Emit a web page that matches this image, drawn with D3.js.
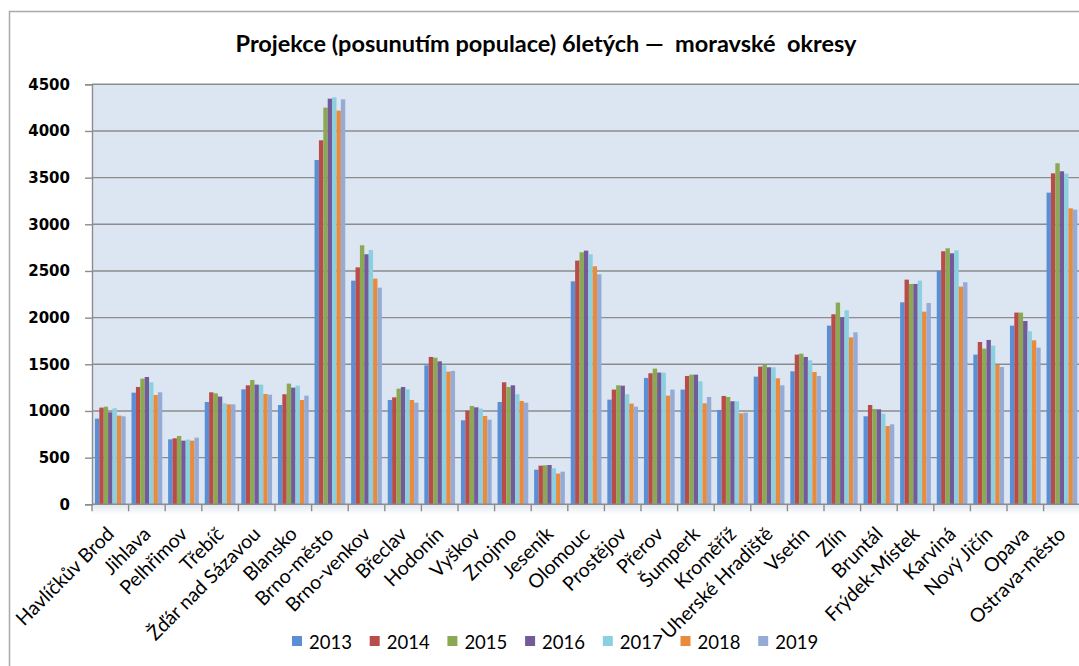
<!DOCTYPE html>
<html>
<head>
<meta charset="utf-8">
<script src="https://cdn.jsdelivr.net/npm/d3@7"></script>
<style>
  html, body { margin: 0; padding: 0; background: #ffffff; overflow: hidden; }
  svg { display: block; }
</style>
</head>
<body>
<svg id="chart" width="1079" height="666"></svg>
<script>
const categories = ["Havlíčkův Brod","Jihlava","Pelhřimov","Třebíč","Žďár nad Sázavou","Blansko","Brno-město","Brno-venkov","Břeclav","Hodonín","Vyškov","Znojmo","Jeseník","Olomouc","Prostějov","Přerov","Šumperk","Kroměříž","Uherské Hradiště","Vsetín","Zlín","Bruntál","Frýdek-Místek","Karviná","Nový Jičín","Opava","Ostrava-město"];
const years = ["2013","2014","2015","2016","2017","2018","2019"];
const v2013 = [918,1196,696,1096,1232,1064,3689,2396,1118,1489,900,1096,371,2389,1121,1354,1229,1011,1368,1425,1914,943,2164,2504,1604,1914,3339];
const v2014 = [1036,1257,707,1200,1275,1179,3900,2539,1146,1579,1004,1307,414,2611,1229,1404,1375,1161,1475,1604,2036,1064,2407,2711,1739,2054,3546];
const v2015 = [1046,1346,732,1189,1332,1293,4250,2775,1239,1571,1054,1257,418,2700,1275,1454,1389,1150,1493,1614,2161,1021,2361,2743,1668,2054,3654];
const v2016 = [986,1364,682,1154,1282,1250,4346,2679,1257,1532,1039,1275,421,2718,1271,1411,1389,1104,1468,1579,2004,1018,2361,2689,1761,1964,3568];
const v2017 = [1029,1307,693,1082,1282,1271,4361,2725,1232,1489,1025,1179,386,2679,1179,1411,1318,1104,1468,1543,2079,971,2396,2721,1700,1854,3543];
const v2018 = [950,1171,682,1071,1182,1118,4218,2418,1118,1421,946,1107,329,2550,1079,1164,1082,975,1350,1418,1789,839,2064,2332,1493,1757,3171];
const v2019 = [943,1200,714,1071,1175,1164,4339,2321,1089,1429,907,1089,350,2464,1046,1229,1150,982,1275,1375,1843,857,2157,2379,1471,1679,3157];
const yTicks = [0,500,1000,1500,2000,2500,3000,3500,4000,4500];
const titleText = "Projekce (posunutím populace) 6letých \u2014\u00a0 moravské\u00a0 okresy";

const seriesValues = [v2013, v2014, v2015, v2016, v2017, v2018, v2019];
const colors = ["#5a8fd6","#b94b49","#8ba952","#735a98","#8ccfe1","#e98b3d","#95abd6"];

const svg = d3.select("#chart");
const pLeft = 92, pTop = 84.3, pBottom = 504.3, pRight = 92 + 27 * 36.6;

// outer chart border
svg.append("rect").attr("x", 9.5).attr("y", 11.5).attr("width", 1200).attr("height", 800)
  .attr("fill", "#ffffff").attr("stroke", "#a9a9a9").attr("stroke-width", 1.5);

// title
svg.append("text").attr("x", 546).attr("y", 52).attr("text-anchor", "middle")
  .attr("font-family", "Lato").attr("font-weight", "bold").attr("font-size", 23.5)
  .attr("fill", "#000").text(titleText);

const x = d3.scaleBand().domain(categories).range([pLeft, pRight]).paddingInner(0).paddingOuter(0);
const xi = d3.scaleBand().domain(years).range([0, x.bandwidth()]).paddingInner(0).paddingOuter(0.67);
const y = d3.scaleLinear().domain([0, 4500]).range([pBottom, pTop]);

// plot area background
svg.append("rect").attr("x", pLeft).attr("y", pTop).attr("width", pRight - pLeft).attr("height", pBottom - pTop)
  .attr("fill", "#dce6f2");

// shadow under x axis
const defs = svg.append("defs");
const g1 = defs.append("linearGradient").attr("id", "shadow").attr("x1", 0).attr("y1", 0).attr("x2", 0).attr("y2", 1);
g1.append("stop").attr("offset", "0%").attr("stop-color", "#dfe6ee");
g1.append("stop").attr("offset", "100%").attr("stop-color", "#ffffff");
svg.append("rect").attr("x", pLeft).attr("y", pBottom).attr("width", pRight - pLeft).attr("height", 10).attr("fill", "url(#shadow)");

// gridlines
svg.append("g").selectAll("line").data(yTicks.filter(d => d > 0)).join("line")
  .attr("x1", pLeft).attr("x2", pRight).attr("y1", d => y(d)).attr("y2", d => y(d))
  .attr("stroke", "#8c8c8c").attr("stroke-width", 1.4);

// bars
const bars = svg.append("g");
seriesValues.forEach((vals, si) => {
  bars.selectAll(null).data(vals).join("rect")
    .attr("x", (d, i) => x(categories[i]) + xi(years[si]))
    .attr("width", xi.bandwidth())
    .attr("y", d => y(d))
    .attr("height", d => y(0) - y(d))
    .attr("fill", colors[si]);
});

// y axis
const yAxis = d3.axisLeft(y).tickValues(yTicks).tickSize(7).tickPadding(15).tickFormat(d3.format("d"));
const ya = svg.append("g").attr("transform", `translate(${pLeft},0)`).call(yAxis);
ya.select(".domain").attr("stroke", "#8c8c8c").attr("stroke-width", 1.4);
ya.selectAll(".tick line").attr("stroke", "#8c8c8c").attr("stroke-width", 1.4);
ya.selectAll("text").attr("font-family", "DejaVu Sans").attr("font-weight", "bold").attr("font-size", 15).attr("fill", "#000");

// x axis line
svg.append("line").attr("x1", pLeft).attr("x2", pRight).attr("y1", pBottom).attr("y2", pBottom)
  .attr("stroke", "#8c8c8c").attr("stroke-width", 1.4);
// x tick marks at category boundaries
svg.append("g").selectAll("line").data(categories).join("line")
  .attr("x1", d => x(d)).attr("x2", d => x(d)).attr("y1", pBottom).attr("y2", pBottom + 7)
  .attr("stroke", "#8c8c8c").attr("stroke-width", 1.4);

// x labels
const xa = svg.append("g").attr("transform", `translate(0,${pBottom})`)
  .call(d3.axisBottom(x).tickSize(0).tickPadding(0));
xa.select(".domain").remove();
xa.selectAll(".tick text")
  .attr("font-family", "Lato").attr("font-size", 19.5).attr("fill", "#000")
  .attr("text-anchor", "end").attr("dy", 0).attr("y", 0)
  .attr("transform", "translate(5,31) rotate(-45)");

// legend
const legend = svg.append("g");
years.forEach((yr, i) => {
  const lx = 292 + i * 77.7;
  legend.append("rect").attr("x", lx).attr("y", 636).attr("width", 10).attr("height", 10).attr("fill", colors[i]);
  legend.append("text").attr("x", lx + 17).attr("y", 648.5).attr("font-family", "Lato").attr("font-size", 18.5)
    .attr("fill", "#000").text(yr);
});
</script>
</body>
</html>
